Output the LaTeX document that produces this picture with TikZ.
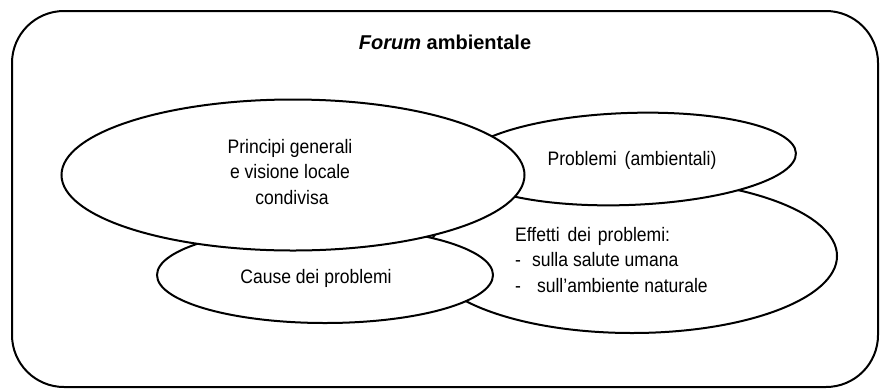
\documentclass[tikz,border=0pt]{standalone}
\usepackage{fontspec}
\setmainfont{Liberation Sans}
\newfontfamily\strettofont[FakeStretch=0.9]{Liberation Sans}
\usetikzlibrary{shapes.geometric, positioning}

\begin{document}
\begin{tikzpicture}[x=1pt, y=-1pt,
			bubble/.style={ellipse, draw, fill=white, line width=2pt, inner sep=0pt},
			txt/.style={font=\strettofont\fontsize{19.5}{25.5}\selectfont, align=center, inner sep=0pt}]
			\useasboundingbox (0,0) rectangle (882,389);
			
			% cornice del forum
			\node (forum) [draw, line width=2pt, rounded corners=52pt, inner sep=0pt,
				minimum width=866pt, minimum height=376pt] at (445,199) {};
			\node (titolo) [below=25pt of forum.north, inner sep=0pt,
				font=\fontsize{20}{24}\selectfont\bfseries] {\textit{Forum} ambientale};
			
			% ellissi (dal fondo in su)
			\node (effetti) [bubble, minimum width=410pt, minimum height=154pt] at (632,256) {};
			\node (problemi) [bubble, minimum width=336pt, minimum height=92pt, rotate=2] at (628,159) {};
			\node (cause) [bubble, minimum width=336pt, minimum height=96pt] at (325,275) {};
			\node (principi) [bubble, minimum width=463pt, minimum height=151pt] at (293,175) {};
			
			% testi
			\node (principitxt) [txt] at (290,172) {Principi generali\\e visione locale\\\hspace*{4pt}condivisa};
			\node (problemitxt) [txt] at (632,160) {Problemi\hspace{3pt} (ambientali)};
			\node (causetxt) [txt] at (316,278) {Cause dei problemi};
			\node (effettitxt) [txt, align=left, anchor=west] at (515,260)
				{Effetti\hspace{3pt} dei\hspace{2pt} problemi:\\-\hspace{11pt}sulla salute umana\\-\hspace{16pt}sull’ambiente naturale};
		\end{tikzpicture}
\end{document}
